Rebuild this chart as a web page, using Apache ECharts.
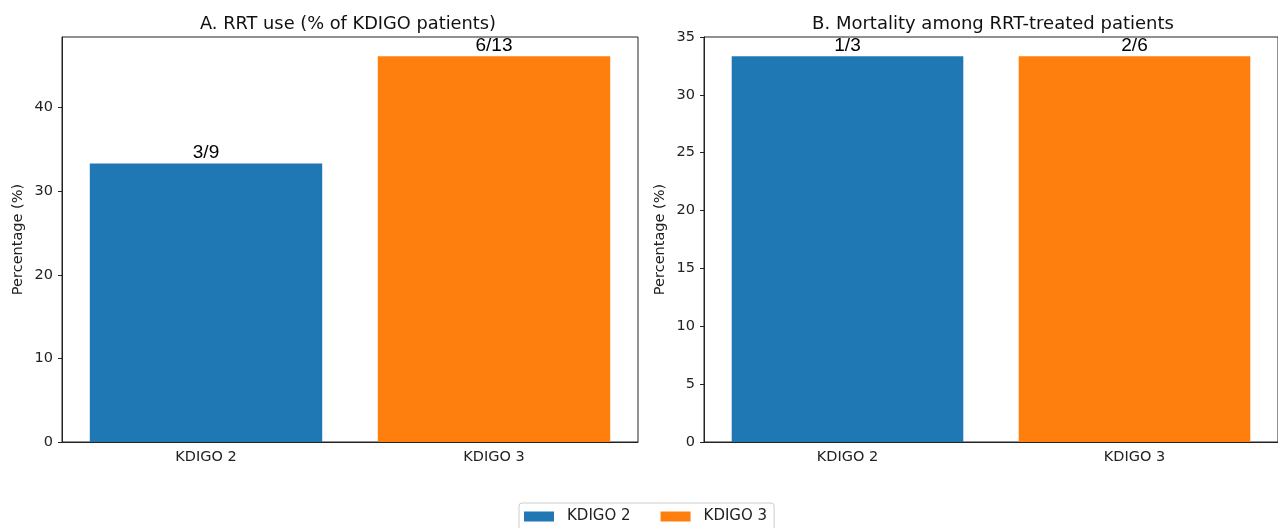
<!DOCTYPE html>
<html>
<head>
<meta charset="utf-8">
<script src="https://cdn.jsdelivr.net/npm/echarts@6/dist/echarts.min.js"></script>
<style>html,body{margin:0;padding:0;background:#fff}#c{width:1278px;height:528px}</style>
</head>
<body>
<div id="c"></div>
<script>
const categories = ['KDIGO 2', 'KDIGO 3'];
const rrtUse = [33.33, 46.15];
const rrtLabels = ['3/9', '6/13'];
const mortality = [33.33, 33.33];
const mortalityLabels = ['1/3', '2/6'];
const titles = ['A. RRT use (% of KDIGO patients)', 'B. Mortality among RRT-treated patients'];
const colors = ['#1f77b4', '#ff7f0e'];

const FONT = 'DejaVu Sans';
const chart = echarts.init(document.getElementById('c'));

function seriesFor(panel, values, labels) {
  return categories.map((name, i) => ({
    name: name,
    type: 'bar',
    xAxisIndex: panel,
    yAxisIndex: panel,
    barWidth: '80.7%',
    barGap: '-100%',
    itemStyle: { color: colors[i] },
    label: {
      show: true, position: 'top', distance: 1,
      fontFamily: 'Liberation Sans', fontSize: 19, color: '#000',
      formatter: () => labels[i]
    },
    data: values.map((v, j) => j === i ? v : '-')
  }));
}

const axisLineStyle = { color: '#222', width: 1 };
function xAxis(grid) {
  return {
    type: 'category', gridIndex: grid, data: categories,
    axisLine: { lineStyle: axisLineStyle },
    axisTick: { alignWithLabel: true, length: 4, lineStyle: axisLineStyle },
    axisLabel: { fontFamily: FONT, fontSize: 14.5, color: '#222', margin: 8 },
    splitLine: { show: false }
  };
}
function yAxis(grid, max, interval, showMax) {
  return {
    type: 'value', gridIndex: grid, min: 0, max: max, interval: interval,
    name: 'Percentage (%)', nameLocation: 'middle', nameGap: 36,
    nameTextStyle: { fontFamily: FONT, fontSize: 14.5, color: '#222' },
    axisLine: { show: true, lineStyle: axisLineStyle },
    axisTick: { show: true, length: 4, lineStyle: axisLineStyle },
    axisLabel: { fontFamily: FONT, fontSize: 14.5, color: '#222', margin: 9, showMaxLabel: showMax },
    splitLine: { show: false }
  };
}

chart.setOption({
  animation: false,
  backgroundColor: '#fff',
  title: [
    { text: titles[0], left: 343, top: 10, textAlign: 'center',
      textStyle: { fontFamily: FONT, fontSize: 17.8, fontWeight: 'normal', color: '#111' } },
    { text: titles[1], left: 988, top: 10, textAlign: 'center',
      textStyle: { fontFamily: FONT, fontSize: 18, fontWeight: 'normal', color: '#111' } }
  ],
  legend: {
    data: categories, top: 503, left: 519,
    itemWidth: 30, itemHeight: 10, itemGap: 30,
    icon: 'rect',
    borderColor: '#ccc', borderWidth: 1, borderRadius: 3,
    padding: [6, 7, 8, 5],
    textStyle: { fontFamily: FONT, fontSize: 15, color: '#222', padding: [0, 0, 0, 8] }
  },
  grid: [
    { left: 62, top: 37, width: 576, height: 405, show: true, borderColor: '#222', borderWidth: 1, backgroundColor: 'transparent' },
    { left: 704, top: 37, width: 575, height: 405, show: true, borderColor: '#222', borderWidth: 1, backgroundColor: 'transparent' }
  ],
  xAxis: [xAxis(0), xAxis(1)],
  yAxis: [yAxis(0, 48.46, 10, false), yAxis(1, 35, 5, true)],
  series: [...seriesFor(0, rrtUse, rrtLabels), ...seriesFor(1, mortality, mortalityLabels)]
});
</script>
</body>
</html>
